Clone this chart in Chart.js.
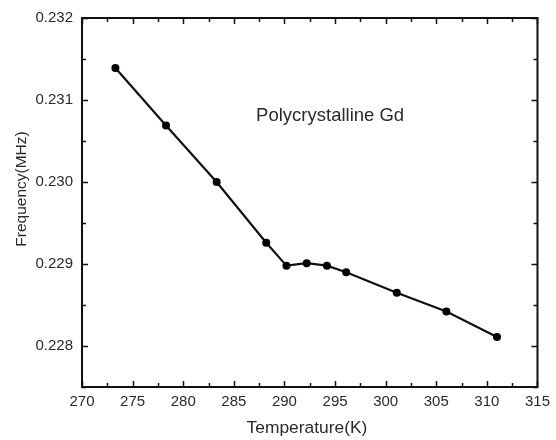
<!DOCTYPE html>
<html>
<head>
<meta charset="utf-8">
<script src="https://cdn.jsdelivr.net/npm/chart.js@4/dist/chart.umd.min.js"></script>
<style>
  html, body { margin: 0; padding: 0; background: #fff; }
  #wrap { width: 556px; height: 440px; position: relative; }
</style>
</head>
<body>
<div id="wrap"><canvas id="c" width="556" height="440"></canvas></div>
<script>
// ---- Data ----
const temperature = [273.3, 278.3, 283.3, 288.2, 290.2, 292.2, 294.2, 296.1, 301.1, 306.0, 311.0];
const frequency   = [0.23139, 0.23069, 0.23000, 0.22926, 0.22898, 0.22901, 0.22898, 0.22890, 0.22865, 0.22842, 0.22811];
const xTicks      = [270, 275, 280, 285, 290, 295, 300, 305, 310, 315];
const xMinorTicks = [272.5, 277.5, 282.5, 287.5, 292.5, 297.5, 302.5, 307.5, 312.5];
const yTicks      = [0.228, 0.229, 0.230, 0.231, 0.232];
const yMinorTicks = [0.2275, 0.2285, 0.2295, 0.2305, 0.2315];
const xTitle = 'Temperature(K)';
const yTitle = 'Frequency(MHz)';
const annotationText = 'Polycrystalline Gd';
const annotationAt = { x: 287.2, y: 0.2308 };

const FONT = '"Liberation Sans", Arial, sans-serif';
const TEXT = '#2a2a2a';

const framePlugin = {
  id: 'frame',
  afterDraw(chart) {
    const { ctx, chartArea: a, scales: { x, y } } = chart;
    ctx.save();
    ctx.strokeStyle = '#111';
    ctx.lineWidth = 1.5;
    ctx.beginPath();
    const hx = (v, len) => {
      const p = Math.round(x.getPixelForValue(v)) + 0.5;
      ctx.moveTo(p, a.bottom); ctx.lineTo(p, a.bottom - len);
      ctx.moveTo(p, a.top); ctx.lineTo(p, a.top + len);
    };
    const hy = (v, len) => {
      const p = Math.round(y.getPixelForValue(v)) + 0.5;
      ctx.moveTo(a.left, p); ctx.lineTo(a.left + len, p);
      ctx.moveTo(a.right, p); ctx.lineTo(a.right - len, p);
    };
    xTicks.forEach(v => hx(v, 6));
    xMinorTicks.forEach(v => hx(v, 4));
    yTicks.forEach(v => hy(v, 6));
    yMinorTicks.forEach(v => hy(v, 4));
    ctx.stroke();
    ctx.lineWidth = 2;
    ctx.strokeRect(a.left, a.top, a.right - a.left, a.bottom - a.top);

    // annotation
    ctx.fillStyle = TEXT;
    ctx.font = '18.5px ' + FONT;
    ctx.textAlign = 'left';
    ctx.textBaseline = 'middle';
    ctx.fillText(annotationText, x.getPixelForValue(annotationAt.x), y.getPixelForValue(annotationAt.y));

    // axis titles
    ctx.font = '17.4px ' + FONT;
    ctx.textAlign = 'center';
    ctx.textBaseline = 'middle';
    ctx.fillText(xTitle, 307, 428);
    ctx.save();
    ctx.translate(22, 189);
    ctx.rotate(-Math.PI / 2);
    ctx.font = '15.5px ' + FONT;
    ctx.fillText(yTitle, 0, 0);
    ctx.restore();
    ctx.restore();
  }
};

new Chart(document.getElementById('c'), {
  type: 'scatter',
  data: {
    datasets: [{
      data: temperature.map((t, i) => ({ x: t, y: frequency[i] })),
      showLine: true,
      borderColor: '#111',
      borderWidth: 2.2,
      backgroundColor: '#000',
      pointBackgroundColor: '#000',
      pointBorderColor: '#000',
      pointRadius: 4,
      pointBorderWidth: 0,
      tension: 0
    }]
  },
  options: {
    responsive: false,
    animation: false,
    devicePixelRatio: 1,
    layout: { padding: { top: 18, right: 14, left: 0, bottom: 0 } },
    plugins: { legend: { display: false }, tooltip: { enabled: false } },
    scales: {
      x: {
        type: 'linear',
        min: 270, max: 315,
        grid: { display: false, drawTicks: false },
        border: { display: false },
        afterBuildTicks: s => { s.ticks = xTicks.map(v => ({ value: v })); },
        afterFit: s => { s.height = 53; },
        ticks: {
          color: TEXT, padding: 6,
          font: { family: FONT, size: 15 },
          maxRotation: 0,
          callback: v => String(v)
        }
      },
      y: {
        type: 'linear',
        min: 0.2275, max: 0.232,
        grid: { display: false, drawTicks: false },
        border: { display: false },
        afterBuildTicks: s => { s.ticks = yTicks.map(v => ({ value: v })); },
        afterFit: s => { s.width = 82; },
        ticks: {
          color: TEXT, padding: 9,
          font: { family: FONT, size: 15 },
          callback: v => Number(v).toFixed(3)
        }
      }
    }
  },
  plugins: [framePlugin]
});
</script>
</body>
</html>
